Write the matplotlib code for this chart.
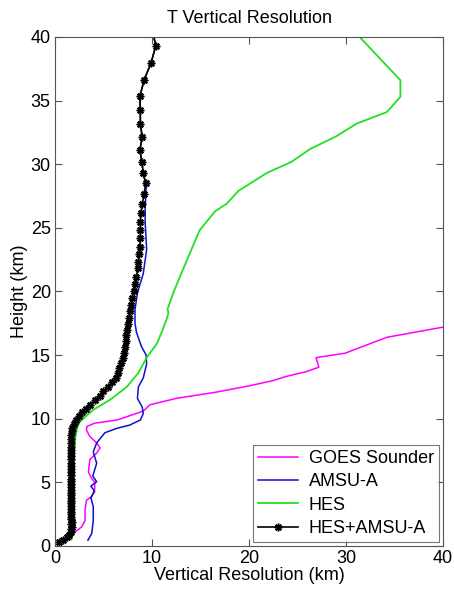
import matplotlib
matplotlib.use("Agg")
import matplotlib.pyplot as plt

plt.rcParams["font.family"] = ["Liberation Sans", "DejaVu Sans"]
plt.rcParams["font.size"] = 13

# HES+AMSU-A (markers at each level)
comb_h = [0.3, 0.5, 0.7, 0.9, 1.1, 1.3, 1.5, 1.7, 1.9, 2.1, 2.3, 2.5, 2.71, 2.92,
          3.13, 3.34, 3.55, 3.76, 3.98, 4.2, 4.42, 4.64, 4.86, 5.08, 5.3, 5.55,
          5.8, 6.05, 6.3, 6.55, 6.8, 7.05, 7.3, 7.55, 7.8, 8.1, 8.4, 8.7, 9.0,
          9.3, 9.6, 9.9, 10.2, 10.5, 10.8, 11.1, 11.45, 11.8, 12.15, 12.5, 12.85,
          13.2, 13.6, 14.0, 14.4, 14.8, 15.2, 15.65, 16.1, 16.55, 17.0, 17.45,
          17.95, 18.45, 18.95, 19.5, 20.05, 20.6, 21.17, 21.83, 22.35, 22.96,
          23.5, 24.2, 24.84, 25.5, 26.15, 26.9, 27.7, 28.5, 29.3, 30.21, 31.13,
          32.13, 33.15, 34.23, 35.33, 36.64, 37.95, 39.33, 40.9]
comb_x = [0.45, 0.8, 1.2, 1.5, 1.65, 1.7, 1.72, 1.7, 1.72, 1.7, 1.68, 1.7, 1.7, 1.68,
          1.7, 1.68, 1.66, 1.68, 1.66, 1.65, 1.66, 1.65, 1.64, 1.65, 1.64, 1.63,
          1.64, 1.62, 1.63, 1.62, 1.62, 1.63, 1.62, 1.62, 1.63, 1.64, 1.66, 1.7, 1.72,
          1.8, 1.95, 2.2, 2.5, 2.8, 3.2, 3.6, 4.1, 4.6, 5.0, 5.5, 5.9,
          6.3, 6.5, 6.6, 6.8, 7.0, 7.1, 7.2, 7.3, 7.35, 7.45, 7.55,
          7.65, 7.7, 7.8, 7.95, 8.1, 8.25, 8.4, 8.55, 8.6, 8.65,
          8.75, 8.8, 8.8, 8.8, 8.85, 9.0, 9.2, 9.35, 9.1, 8.95, 8.75,
          9.0, 8.8, 8.8, 8.75, 9.2, 9.9, 10.4, 9.9]

# AMSU-A
amsu_h = [0.45, 1.0, 2.0, 3.1, 3.8, 4.3, 4.7, 5.05, 5.5, 6.5, 7.4, 8.1, 8.9, 9.25,
          9.5, 9.9, 10.4, 10.9, 11.6, 12.5, 13.2, 14.3, 15.0, 15.7, 16.8, 17.5,
          18.55, 19.9, 21.4, 23.3, 25.4, 26.6, 28.2, 28.5, 29.3, 30.21, 31.13,
          32.13, 33.15, 34.23, 35.33, 36.64, 37.95, 39.33, 40.9]
amsu_x = [3.4, 3.8, 3.95, 3.95, 3.7, 4.1, 3.7, 4.3, 3.9, 4.3, 3.95, 4.3, 5.15, 6.4,
          7.7, 8.8, 9.1, 9.0, 8.5, 8.6, 9.1, 9.45, 9.4, 8.9, 8.4, 8.25,
          8.25, 8.5, 9.1, 9.45, 9.3, 9.3, 9.4, 9.35, 9.1, 8.95, 8.75,
          9.0, 8.8, 8.8, 8.75, 9.2, 9.9, 10.4, 9.9]

# HES
hes_h = [0.5, 1.0, 3.0, 6.0, 7.5, 8.5, 9.3, 9.7, 10.2, 10.7, 11.5, 12.5, 13.6, 14.8,
         15.9, 16.8, 17.8, 18.3, 18.6, 19.9, 21.2, 23.0, 24.8, 26.3, 26.9, 27.9,
         29.3, 30.2, 31.2, 32.2, 33.2, 34.1, 35.3, 36.6, 40.0]
hes_x = [1.7, 1.8, 1.9, 1.9, 2.0, 2.1, 2.3, 2.5, 3.2, 3.95, 5.7, 7.4, 8.6, 9.45,
         10.5, 11.0, 11.5, 11.7, 11.6, 12.2, 12.9, 13.9, 14.9, 16.5, 17.7, 18.9,
         21.8, 24.4, 26.3, 29.0, 31.1, 34.2, 35.6, 35.6, 31.4]

# GOES Sounder
goes_h = [1.0, 1.5, 2.0, 2.8, 3.6, 3.9, 4.5, 5.0, 5.3, 5.8, 6.8, 7.3, 7.7, 8.1, 8.6,
          9.1, 9.4, 9.65, 9.9, 10.6, 11.1, 11.6, 12.1, 12.6, 13.0, 13.3, 13.7,
          14.05, 14.8, 15.15, 16.4, 17.2, 17.8]
goes_x = [1.9, 2.75, 3.1, 3.1, 3.25, 3.8, 4.1, 4.1, 3.8, 3.45, 3.6, 4.3, 4.65, 4.3, 3.6,
          3.25, 3.3, 4.1, 6.4, 9.1, 9.8, 12.5, 16.7, 20.1, 22.5, 23.7, 25.9,
          27.2, 26.9, 29.9, 34.2, 40.0, 45.0]

fig = plt.figure(figsize=(4.54, 5.90), dpi=100)
ax = fig.add_axes([0.121, 0.0746, 0.855, 0.8627])

ax.plot(goes_x, goes_h, color="#ff00ff", lw=1.1, label="GOES Sounder")
ax.plot(amsu_x, amsu_h, color="#1010c8", lw=1.1, label="AMSU-A")
ax.plot(hes_x, hes_h, color="#22e022", lw=1.3, label="HES")
ax.plot(comb_x, comb_h, color="black", lw=1.2, marker=(8, 2, 0), ms=5.5, mew=1.1,
        label="HES+AMSU-A")

ax.set_xlim(0, 40)
ax.set_ylim(0, 40)
ax.set_xticks([0, 10, 20, 30, 40])
ax.set_yticks(range(0, 41, 5))
ax.tick_params(direction="in", top=True, right=True, length=5, color="#555555",
               labelsize=13, pad=3)
for s in ax.spines.values():
    s.set_color("#555555")
    s.set_linewidth(0.8)

ax.set_title("T Vertical Resolution", fontsize=13, pad=10)
ax.set_xlabel("Vertical Resolution (km)", fontsize=13, labelpad=0)
ax.set_ylabel("Height (km)", fontsize=13, labelpad=2)

leg = ax.legend(loc="lower right", numpoints=1, fancybox=False, fontsize=13,
                handlelength=2.2, handletextpad=0.6, borderpad=0.3,
                labelspacing=0.35, borderaxespad=0.2)
leg.get_frame().set_edgecolor("#555555")
leg.get_frame().set_linewidth(0.8)

fig.savefig("out.png", dpi=100)
